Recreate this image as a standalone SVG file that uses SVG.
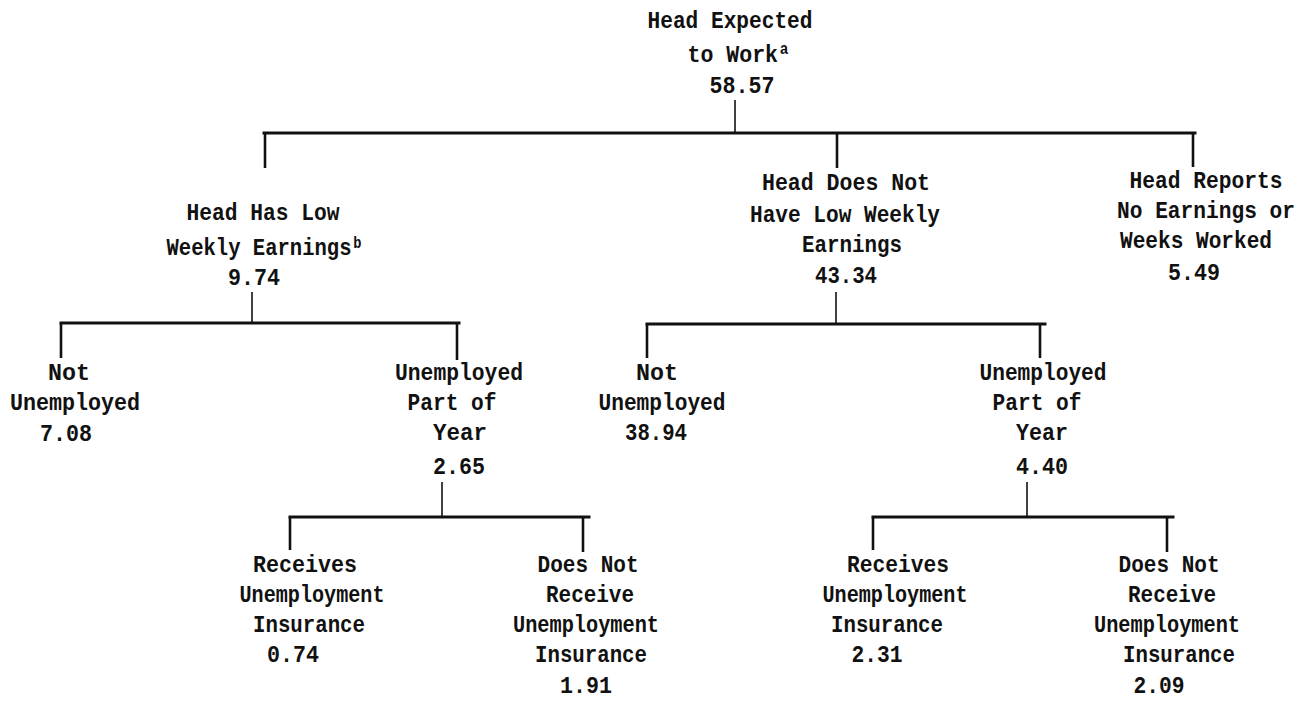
<svg xmlns="http://www.w3.org/2000/svg" width="1312" height="704" viewBox="0 0 1312 704">
<style>
.t { font-family: "Liberation Mono", "Courier New", monospace; font-size: 24px; font-weight: bold; fill: #111; text-anchor: middle; }
.sup { font-size: 16px; }
.bar { stroke: #111; stroke-width: 3; fill: none; stroke-linecap: square; }
.drop { stroke: #111; stroke-width: 2.6; fill: none; }
.stem { stroke: #111; stroke-width: 1.6; fill: none; }
</style>
<rect width="1312" height="704" fill="#ffffff"/>
<g id="connectors">
  <line class="stem" x1="735" y1="100" x2="735" y2="133"/>
  <line class="bar" x1="264" y1="133" x2="1195" y2="133"/>
  <line class="drop" x1="265" y1="133" x2="265" y2="168"/>
  <line class="drop" x1="837" y1="133" x2="837" y2="168"/>
  <line class="drop" x1="1193" y1="133" x2="1193" y2="167"/>

  <line class="stem" x1="252" y1="292" x2="252" y2="323"/>
  <line class="bar" x1="61" y1="323" x2="459" y2="323"/>
  <line class="drop" x1="61" y1="323" x2="61" y2="358"/>
  <line class="drop" x1="457" y1="323" x2="457" y2="360"/>

  <line class="stem" x1="836" y1="292" x2="836" y2="324"/>
  <line class="bar" x1="647" y1="324" x2="1045" y2="324"/>
  <line class="drop" x1="647" y1="324" x2="647" y2="358"/>
  <line class="drop" x1="1040" y1="324" x2="1040" y2="358"/>

  <line class="stem" x1="442" y1="482" x2="442" y2="517"/>
  <line class="bar" x1="290" y1="517" x2="589" y2="517"/>
  <line class="drop" x1="290" y1="517" x2="290" y2="550"/>
  <line class="drop" x1="583" y1="517" x2="583" y2="552"/>

  <line class="stem" x1="1027" y1="482" x2="1027" y2="517"/>
  <line class="bar" x1="873" y1="517" x2="1173" y2="517"/>
  <line class="drop" x1="873" y1="517" x2="873" y2="550"/>
  <line class="drop" x1="1167" y1="517" x2="1167" y2="552"/>
</g>
<g id="root">
  <text class="t" x="730" y="28" textLength="165" lengthAdjust="spacingAndGlyphs">Head Expected</text>
  <text class="t" x="738" y="62" textLength="101" lengthAdjust="spacingAndGlyphs">to Work<tspan class="sup" dx="2" dy="-8">a</tspan></text>
  <text class="t" x="742" y="93" textLength="65" lengthAdjust="spacingAndGlyphs">58.57</text>
</g>
<g id="low">
  <text class="t" x="263" y="220" textLength="153" lengthAdjust="spacingAndGlyphs" x-note="">Head Has Low</text>
  <text class="t" x="264" y="255" textLength="195" lengthAdjust="spacingAndGlyphs">Weekly Earnings<tspan class="sup" dx="2" dy="-7">b</tspan></text>
  <text class="t" x="254" y="285" textLength="52" lengthAdjust="spacingAndGlyphs">9.74</text>
</g>
<g id="notlow">
  <text class="t" x="846" y="190" textLength="168" lengthAdjust="spacingAndGlyphs">Head Does Not</text>
  <text class="t" x="845" y="222" textLength="190" lengthAdjust="spacingAndGlyphs">Have Low Weekly</text>
  <text class="t" x="852" y="252" textLength="100" lengthAdjust="spacingAndGlyphs">Earnings</text>
  <text class="t" x="846" y="283" textLength="62" lengthAdjust="spacingAndGlyphs">43.34</text>
</g>
<g id="noearn">
  <text class="t" x="1206" y="188" textLength="153" lengthAdjust="spacingAndGlyphs">Head Reports</text>
  <text class="t" x="1206" y="218" textLength="178" lengthAdjust="spacingAndGlyphs" style="font-size:23px">No Earnings or</text>
  <text class="t" x="1196" y="248" textLength="152" lengthAdjust="spacingAndGlyphs">Weeks Worked</text>
  <text class="t" x="1194" y="280" textLength="52" lengthAdjust="spacingAndGlyphs">5.49</text>
</g>
<g id="notunemp1">
  <text class="t" x="69" y="380" textLength="42" lengthAdjust="spacingAndGlyphs">Not</text>
  <text class="t" x="75" y="410" textLength="130" lengthAdjust="spacingAndGlyphs">Unemployed</text>
  <text class="t" x="66" y="441" textLength="52" lengthAdjust="spacingAndGlyphs">7.08</text>
</g>
<g id="unemp1">
  <text class="t" x="459" y="380" textLength="128" lengthAdjust="spacingAndGlyphs">Unemployed</text>
  <text class="t" x="452" y="410" textLength="89" lengthAdjust="spacingAndGlyphs">Part of</text>
  <text class="t" x="460" y="440" textLength="54" lengthAdjust="spacingAndGlyphs">Year</text>
  <text class="t" x="459" y="474" textLength="52" lengthAdjust="spacingAndGlyphs">2.65</text>
</g>
<g id="notunemp2">
  <text class="t" x="657" y="380" textLength="42" lengthAdjust="spacingAndGlyphs">Not</text>
  <text class="t" x="662" y="410" textLength="127" lengthAdjust="spacingAndGlyphs">Unemployed</text>
  <text class="t" x="656" y="440" textLength="62" lengthAdjust="spacingAndGlyphs">38.94</text>
</g>
<g id="unemp2">
  <text class="t" x="1043" y="380" textLength="127" lengthAdjust="spacingAndGlyphs">Unemployed</text>
  <text class="t" x="1037" y="410" textLength="89" lengthAdjust="spacingAndGlyphs">Part of</text>
  <text class="t" x="1042" y="440" textLength="52" lengthAdjust="spacingAndGlyphs">Year</text>
  <text class="t" x="1042" y="474" textLength="52" lengthAdjust="spacingAndGlyphs">4.40</text>
</g>
<g id="rec1">
  <text class="t" x="305" y="572" textLength="104" lengthAdjust="spacingAndGlyphs">Receives</text>
  <text class="t" x="312" y="602" textLength="145" lengthAdjust="spacingAndGlyphs">Unemployment</text>
  <text class="t" x="309" y="632" textLength="112" lengthAdjust="spacingAndGlyphs">Insurance</text>
  <text class="t" x="293" y="662" textLength="52" lengthAdjust="spacingAndGlyphs">0.74</text>
</g>
<g id="norec1">
  <text class="t" x="588" y="572" textLength="101" lengthAdjust="spacingAndGlyphs">Does Not</text>
  <text class="t" x="590" y="602" textLength="88" lengthAdjust="spacingAndGlyphs">Receive</text>
  <text class="t" x="586" y="632" textLength="146" lengthAdjust="spacingAndGlyphs">Unemployment</text>
  <text class="t" x="591" y="662" textLength="112" lengthAdjust="spacingAndGlyphs">Insurance</text>
  <text class="t" x="586" y="693" textLength="52" lengthAdjust="spacingAndGlyphs">1.91</text>
</g>
<g id="rec2">
  <text class="t" x="898" y="572" textLength="102" lengthAdjust="spacingAndGlyphs">Receives</text>
  <text class="t" x="895" y="602" textLength="145" lengthAdjust="spacingAndGlyphs">Unemployment</text>
  <text class="t" x="887" y="632" textLength="112" lengthAdjust="spacingAndGlyphs">Insurance</text>
  <text class="t" x="877" y="662" textLength="51" lengthAdjust="spacingAndGlyphs">2.31</text>
</g>
<g id="norec2">
  <text class="t" x="1169" y="572" textLength="101" lengthAdjust="spacingAndGlyphs">Does Not</text>
  <text class="t" x="1172" y="602" textLength="88" lengthAdjust="spacingAndGlyphs">Receive</text>
  <text class="t" x="1167" y="632" textLength="146" lengthAdjust="spacingAndGlyphs">Unemployment</text>
  <text class="t" x="1179" y="662" textLength="112" lengthAdjust="spacingAndGlyphs">Insurance</text>
  <text class="t" x="1159" y="693" textLength="51" lengthAdjust="spacingAndGlyphs">2.09</text>
</g>
</svg>
